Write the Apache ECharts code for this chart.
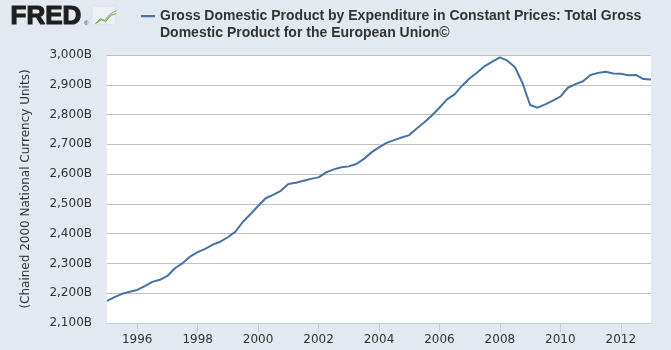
<!DOCTYPE html>
<html>
<head>
<meta charset="utf-8">
<script src="https://cdn.jsdelivr.net/npm/echarts@6/dist/echarts.min.js"></script>
<style>
  html, body { margin: 0; padding: 0; background: #e2e9f0; }
  #chart { width: 671px; height: 350px; }
</style>
</head>
<body>
<div id="chart"></div>
<script>
  // quarterly values, 1995 Q1 .. 2013 Q1 (billions)
  var firstYear = 1995;
  var gdp = [
    2174, 2187, 2198, 2205,  // 1995
    2211, 2224, 2238, 2245,  // 1996
    2258, 2284, 2301, 2323,  // 1997
    2338, 2349, 2363, 2373,  // 1998
    2388, 2407, 2440, 2466,  // 1999
    2493, 2519, 2530, 2544,  // 2000
    2567, 2571, 2578, 2584,  // 2001
    2589, 2606, 2616, 2623,  // 2002
    2626, 2634, 2651, 2673,  // 2003
    2690, 2705, 2714, 2723,  // 2004
    2731, 2753, 2774, 2797,  // 2005
    2823, 2851, 2868, 2897,  // 2006
    2922, 2941, 2963, 2978,  // 2007
    2992, 2981, 2959, 2905,  // 2008
    2832, 2823, 2834, 2847,  // 2009
    2860, 2890, 2902, 2912,  // 2010
    2933, 2940, 2944, 2938,  // 2011
    2937, 2932, 2933, 2919,  // 2012
    2918                     // 2013
  ];
  var tickYears = [1996, 1998, 2000, 2002, 2004, 2006, 2008, 2010, 2012];
  var seriesName = 'Gross Domestic Product by Expenditure in Constant Prices: Total Gross\nDomestic Product for the European Union©';
  var yTitle = '(Chained 2000 National Currency Units)';

  var lineColor = '#4572a7',
      font = 'DejaVu Sans';

  // x as fractional year (quarter start)
  var points = gdp.map(function(v, i) {
    return [firstYear + Math.floor(i / 4) + (i % 4) / 4, v];
  });

  var myChart = echarts.init(document.getElementById('chart'));
  var option = {
    backgroundColor: '#e2e9f0',
    animation: false,
    grid: { left: 107, right: 20, top: 55, bottom: 27, backgroundColor: '#fff', show: true, borderWidth: 0 },
    legend: {
      left: 136,
      top: 3,
      itemWidth: 14,
      itemHeight: 34,
      itemGap: 0,
      // dash sits beside the first text line
      icon: 'path://M0,7h14v2.2h-14z M0,0h0.01v0.01h-0.01z M0,34h0.01v0.01h-0.01z',
      textStyle: { fontFamily: 'Liberation Sans', fontWeight: 'bold', fontSize: 14, color: '#333', lineHeight: 17 },
      data: [seriesName]
    },
    graphic: [
      { type: 'text', left: 10, top: 3, style: { text: 'FRED', fontFamily: 'Liberation Sans', fontWeight: 'bold', fontSize: 26, fill: '#1e1e1e', stroke: '#1e1e1e', lineWidth: 1.2 } },
      { type: 'text', left: 84, top: 20, style: { text: '®', fontFamily: 'Liberation Sans', fontSize: 6, fill: '#333' } },
      { type: 'rect', left: 92, top: 6, shape: { width: 23, height: 18 }, style: { fill: '#eef1f4', stroke: '#d6dde4', lineWidth: 0.5 } },
      { type: 'polyline', left: 93, top: 8, shape: { points: [[0, 13], [5, 8], [9, 10], [14, 4], [21, 0]] }, style: { stroke: '#7d9fc4', lineWidth: 1, fill: null } },
      { type: 'polyline', left: 93, top: 11, shape: { points: [[0, 11], [6, 7], [10, 9], [15, 3], [21, 1]] }, style: { stroke: '#7ab648', lineWidth: 1.2, fill: null } }
    ],
    xAxis: {
      type: 'value',
      min: points[0][0],
      max: points[points.length - 1][0],
      axisLine: { lineStyle: { color: '#c0cedb', width: 1 } },
      axisTick: { show: true, length: 9, lineStyle: { color: '#c0cedb' }, customValues: tickYears },
      axisLabel: {
        customValues: tickYears,
        color: '#333',
        fontFamily: font,
        fontSize: 12,
        margin: 11,
        formatter: function(v) { return String(v); }
      },
      splitLine: { show: false }
    },
    yAxis: {
      type: 'value',
      min: 2100,
      max: 3000,
      interval: 100,
      name: yTitle,
      nameLocation: 'middle',
      nameRotate: 90,
      nameGap: 75,
      nameTextStyle: { fontFamily: font, fontSize: 12, color: '#333' },
      axisLine: { show: false },
      axisTick: { show: false },
      axisLabel: {
        color: '#333',
        fontFamily: font,
        fontSize: 12,
        margin: 15,
        formatter: function(v) { return v.toLocaleString('en-US') + 'B'; }
      },
      splitLine: { lineStyle: { color: '#c0c0c0', width: 1 } }
    },
    series: [{
      name: seriesName,
      type: 'line',
      data: points,
      showSymbol: false,
      symbol: 'none',
      lineStyle: { color: lineColor, width: 2 },
      itemStyle: { color: lineColor }
    }]
  };
  myChart.setOption(option);
</script>
</body>
</html>
